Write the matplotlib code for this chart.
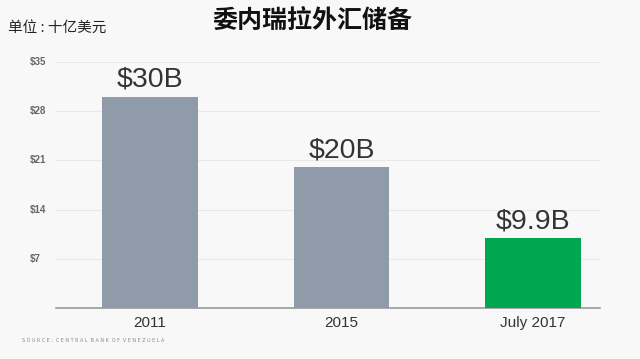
import matplotlib.pyplot as plt

plt.rcParams['font.family'] = ['Noto Sans CJK SC', 'DejaVu Sans']

categories = ['2011', '2015', 'July 2017']
reserves = [30, 20, 9.9]
labels = ['$30B', '$20B', '$9.9B']
yticks = [7, 14, 21, 28, 35]
ytick_labels = ['$7', '$14', '$21', '$28', '$35']
colors = ['#8f9ba8', '#8f9ba8', '#00a650']

fig = plt.figure(figsize=(6.4, 3.59), dpi=100, facecolor='#f8f8f8')
ax = fig.add_axes([56 / 640, 1 - 308 / 359, 544 / 640, 246 / 359])
ax.set_facecolor('#f8f8f8')

x = range(len(categories))
bars = ax.bar(x, reserves, width=0.5, color=colors, zorder=3)
for b, lab in zip(bars, labels):
    ax.text(b.get_x() + b.get_width() / 2, b.get_height() + 0.6, lab,
            ha='center', va='bottom', fontsize=20.5, color='#333333',
            family='Liberation Sans')

ax.set_xlim(-0.49, 2.35)
ax.set_ylim(0, 35)
ax.set_xticks(list(x))
ax.set_xticklabels(categories, fontsize=11, color='#333333', family='Liberation Sans')
ax.set_yticks(yticks)
ax.set_yticklabels([])
for v, t in zip(yticks, ytick_labels):
    ax.text(30 / 640, ax.transData.transform((0, v))[1] / fig.dpi / 3.59, t,
            transform=fig.transFigure, ha='left', va='center',
            fontsize=7, fontweight='bold', color='#666666', family='Liberation Sans')
ax.grid(axis='y', color='#e8e8e8', linewidth=0.8, zorder=0)
ax.tick_params(length=0, pad=6)
for s in ['top', 'right', 'left']:
    ax.spines[s].set_visible(False)
ax.spines['bottom'].set_color('#999999')
ax.spines['bottom'].set_linewidth(1.2)

fig.text(312 / 640, 1 - 22 / 359, '委内瑞拉外汇储备', ha='center', va='center',
         fontsize=18, fontweight='bold', color='#111111')
fig.text(8 / 640, 1 - 28 / 359, '单位 : 十亿美元', ha='left', va='center',
         fontsize=10.5, color='#222222')
fig.text(22 / 640, 1 - 341 / 359, 'S O U R C E :  C E N T R A L  B A N K  O F  V E N E Z U E L A',
         ha='left', va='center', fontsize=3.5, color='#888888', family='DejaVu Sans')

fig.savefig('out.png', dpi=100, facecolor=fig.get_facecolor())
